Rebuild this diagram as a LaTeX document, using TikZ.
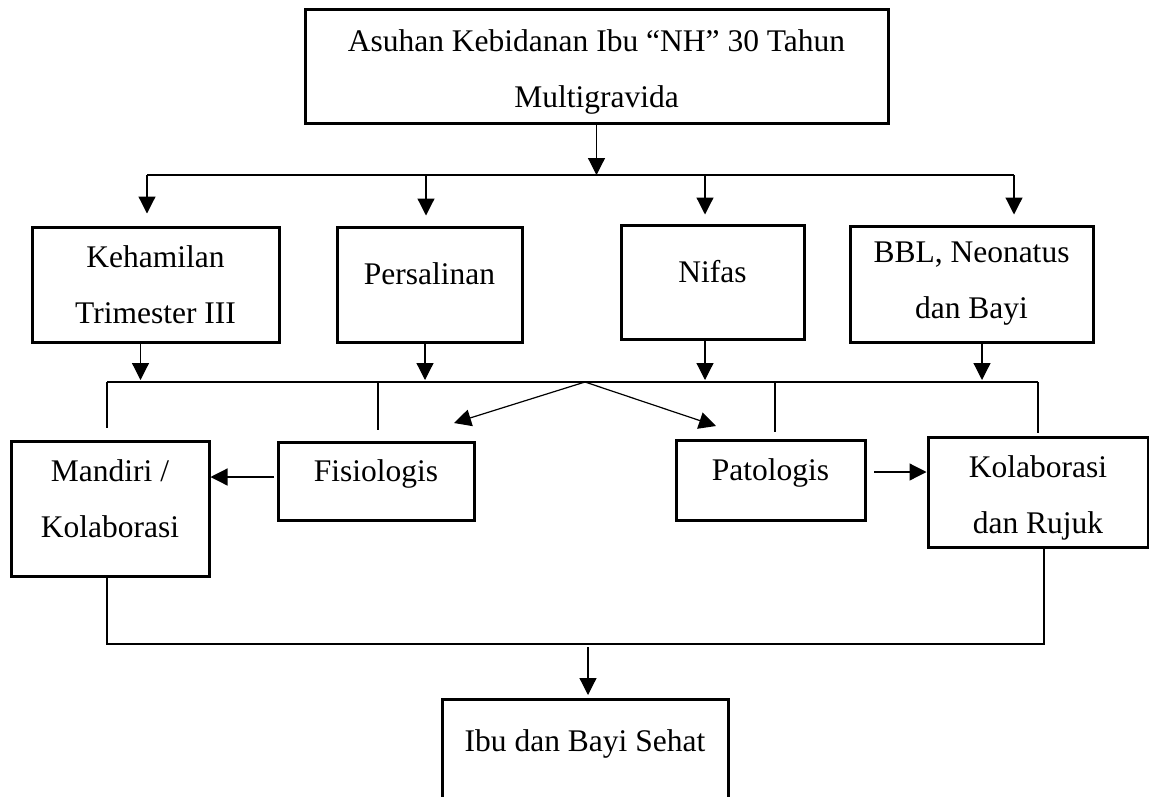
\documentclass[tikz,border=0pt]{standalone}
\usepackage{fontspec}
\setmainfont{Liberation Serif}
\usetikzlibrary{arrows.meta,positioning}

\begin{document}
\begin{tikzpicture}[
  x=1pt, y=-1pt,
  font=\fontsize{31.5pt}{56pt}\selectfont,
  >={Triangle[width=17pt,length=17pt]},
  line width=1.2pt,
  box/.style 2 args={draw, line width=3pt, align=center, inner sep=0pt,
    minimum width=#1, minimum height=#2},
  lifted/.style={text height=0.7em, text depth=0.65em},
]
\useasboundingbox (0,0) rectangle (1149,796);

\node[box={583pt}{114pt}, text height=88pt, text depth=6pt] (asuhan) at (596.5,66) {Asuhan Kebidanan Ibu “NH” 30 Tahun\\Multigravida};

\node[box={247pt}{115pt}] (hamil) at (155.5,284.5) {Kehamilan\\Trimester III};
\node[box={185pt}{115pt}, lifted] (salin) at (429.5,284.5) {Persalinan};
\node[box={183pt}{114pt}, lifted] (nifas) at (712.5,282) {Nifas};
\node[box={243pt}{116pt}] (bayi) at (971.5,284) {BBL, Neonatus\\dan Bayi};

\node[box={198pt}{135pt}, text height=78pt, text depth=20pt] (mandiri) at (110,508.5) {Mandiri /\\Kolaborasi};
\node[box={196pt}{78pt}, lifted] (fisio) at (376,481) {Fisiologis};
\node[box={189pt}{80pt}, lifted] (pato) at (770.5,480) {Patologis};
\node[box={220pt}{110pt}, text height=88pt, text depth=5pt] (rujuk) at (1038,492) {Kolaborasi\\dan Rujuk};

\node[box={286pt}{104pt}, lifted] (sehat) at (585,751) {Ibu dan Bayi Sehat};

% first branching
\coordinate (busA-w) at (147,175);
\coordinate (busA-2) at (426,175);
\coordinate (busA-3) at (705,175);
\coordinate (busA-e) at (1014,175);
\draw[->] (asuhan.south) -- (asuhan.south |- busA-w);
\draw (busA-w) -- (busA-e);
\draw[->, shorten >=12pt] (busA-w) -- (busA-w |- hamil.north);
\draw[->, shorten >=10pt] (busA-2) -- (busA-2 |- salin.north);
\draw[->, shorten >=9pt] (busA-3) -- (busA-3 |- nifas.north);
\draw[->, shorten >=10pt] (busA-e) -- (busA-e |- bayi.north);

% second branching
\coordinate (busB-w) at (107,382);
\coordinate (busB-2) at (378,382);
\coordinate (busB-m) at (585,382);
\coordinate (busB-3) at (775,382);
\coordinate (busB-e) at (1038,382);
\coordinate (fisio-in) at (454,423);
\coordinate (pato-in) at (716,426);
\draw[->, shorten >=2pt] ([xshift=-15pt]hamil.south) -- ([xshift=-15pt]hamil.south |- busB-w);
\draw[->, shorten >=2pt] ([xshift=-4.5pt]salin.south) -- ([xshift=-4.5pt]salin.south |- busB-w);
\draw[->, shorten >=2pt] ([xshift=-7.5pt]nifas.south) -- ([xshift=-7.5pt]nifas.south |- busB-w);
\draw[->, shorten >=2pt] ([xshift=10.5pt]bayi.south) -- ([xshift=10.5pt]bayi.south |- busB-w);
\draw (busB-w) -- (busB-e);
\draw[shorten >=12pt] (busB-w) -- (busB-w |- mandiri.north);
\draw[shorten >=11pt] (busB-2) -- (busB-2 |- fisio.north);
\draw[shorten >=7pt] (busB-3) -- (busB-3 |- pato.north);
\draw[shorten >=3pt] (busB-e) -- (busB-e |- rujuk.north);
\draw[->] (busB-m) -- (fisio-in);
\draw[->] (busB-m) -- (pato-in);

% sideways
\draw[->, shorten <=2.5pt] ([yshift=4pt]fisio.west) -- ([yshift=4pt]fisio.west -| mandiri.east);
\draw[->, shorten <=7.5pt] ([yshift=8pt]pato.east) -- ([yshift=8pt]pato.east -| rujuk.west);

% joining
\coordinate (busC-w) at (107,644);
\coordinate (busC-m) at (588,644);
\coordinate (busC-e) at (1044,644);
\draw ([xshift=-3pt]mandiri.south) -- (busC-w) -- (busC-e) -- ([xshift=6pt]rujuk.south);
\draw[->, shorten <=3pt, shorten >=2.5pt] (busC-m) -- (busC-m |- sehat.north);
\end{tikzpicture}
\end{document}
